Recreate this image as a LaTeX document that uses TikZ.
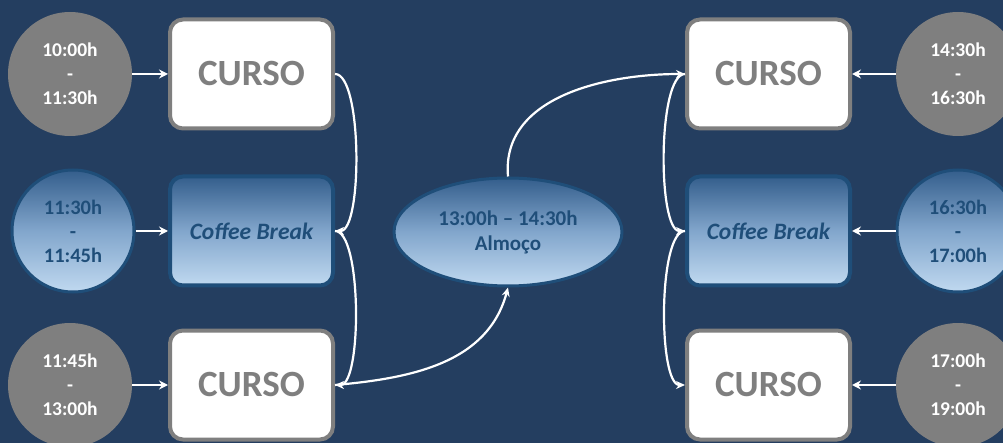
\documentclass[tikz,border=0pt]{standalone}
\usepackage{fontspec}
\setmainfont{Carlito}
\usetikzlibrary{arrows.meta,shapes.geometric}

\definecolor{navybg}{RGB}{36,62,96}
\definecolor{slot}{RGB}{127,127,127}
\definecolor{deepblue}{RGB}{31,78,121}
\definecolor{shadetop}{RGB}{52,94,140}
\definecolor{shademid}{RGB}{130,166,204}
\definecolor{shadebot}{RGB}{192,217,240}

\tikzset{
  hour/.style={circle, fill=slot, minimum size=124pt, inner sep=0pt,
    text=white, font=\fontsize{19.5}{24}\selectfont\bfseries, align=center},
  pause/.style={circle, draw=deepblue, line width=3pt, top color=shadetop,
    bottom color=shadebot, middle color=shademid, minimum size=122pt,
    inner sep=0pt, text=deepblue,
    font=\fontsize{20.5}{24}\selectfont\bfseries, align=center},
  curso/.style={rectangle, rounded corners=13pt, draw=slot, line width=4pt,
    fill=white, minimum width=163pt, minimum height=109pt,
    text=slot, font=\fontsize{37}{40}\selectfont\bfseries},
  coffee/.style={rectangle, rounded corners=13pt, draw=deepblue, line width=4pt,
    top color=shadetop, bottom color=shadebot, middle color=shademid,
    minimum width=163pt, minimum height=109pt, text=deepblue,
    font=\fontsize{23.5}{26}\selectfont\bfseries\itshape},
  lunch/.style={ellipse, draw=deepblue, line width=3pt, top color=shadetop,
    bottom color=shadebot, middle color=shademid, minimum width=228pt,
    minimum height=108pt, inner sep=0pt, text=deepblue,
    font=\fontsize{21}{25}\selectfont\bfseries, align=center},
  link/.style={white, line width=2.5pt, -{Stealth[length=9pt,width=9pt]}},
  flow/.style={white, line width=2.2pt, -{Stealth[length=9pt,width=8pt]}}
}

\begin{document}
\begin{tikzpicture}[x=1pt,y=-1pt]
    % Background
    \fill[navybg] (0,0) rectangle (1003,443);
    \useasboundingbox (0,0) rectangle (1003,443);

    % Morning slots
    \node[hour] (t1) at (70,74) {10:00h\\-\\11:30h};
    \node[pause] (t2) at (73,231) {11:30h\\-\\11:45h};
    \node[hour] (t3) at (70,385) {11:45h\\-\\13:00h};

    \node[curso] (c1) at (251.5,74) {CURSO};
    \node[coffee] (b1) at (251.5,231) {Coffee Break};
    \node[curso] (c2) at (251.5,385) {CURSO};

    % Lunch
    \node[lunch] (almoco) at (508,232) {13:00h -- 14:30h\\Almoço};

    % Afternoon slots
    \node[curso] (c3) at (768.5,74) {CURSO};
    \node[coffee] (b2) at (768.5,231) {Coffee Break};
    \node[curso] (c4) at (768.5,385) {CURSO};

    \node[hour] (t4) at (958,74) {14:30h\\-\\16:30h};
    \node[pause] (t5) at (958,231) {16:30h\\-\\17:00h};
    \node[hour] (t6) at (958,385) {17:00h\\-\\19:00h};

    % Slot arrows
    \draw[link] (t1) -- (c1);
    \draw[link] (t2) -- (b1);
    \draw[link] (t3) -- (c2);
    \draw[link] (t4) -- (c3);
    \draw[link] (t5) -- (b2);
    \draw[link] (t6) -- (c4);

    % Flow of the day
    \draw[flow] (c1.east) to[out=0,in=0,looseness=0.45] (b1.east);
    \draw[flow] (b1.east) to[out=0,in=0,looseness=0.45] (c2.east);
    \draw[flow] (c2.east) to[out=5,in=-105] (almoco.south);
    \draw[flow] (almoco.north) to[out=95,in=180] (c3.west);
    \draw[flow] (c3.west) to[out=180,in=180,looseness=0.45] (b2.west);
    \draw[flow] (b2.west) to[out=180,in=180,looseness=0.45] (c4.west);
\end{tikzpicture}
\end{document}
